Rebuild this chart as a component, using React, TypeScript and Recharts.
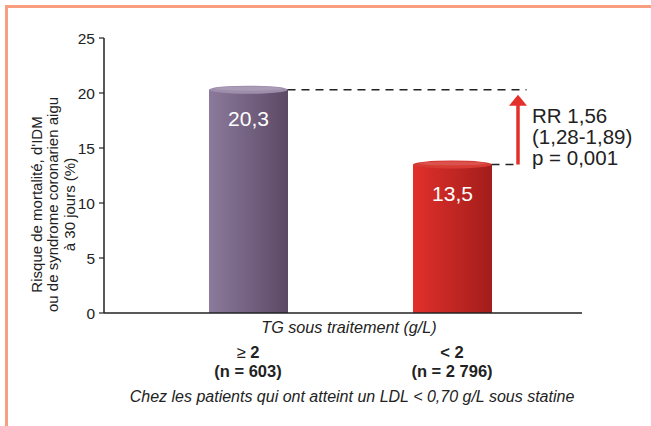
import React from 'react'
import { BarChart, Bar, XAxis, YAxis, ReferenceLine, LabelList } from 'recharts'

const categories = ['≥ 2', '< 2']
const counts = ['(n = 603)', '(n = 2 796)']
const risk = [20.3, 13.5]
const yTicks = [0, 5, 10, 15, 20, 25]
const statLines = ['RR 1,56', '(1,28-1,89)', 'p = 0,001']
const yLabelLines = ["Risque de mortalité, d'IDM", 'ou de syndrome coronarien aigu', 'à 30 jours (%)']

const data = categories.map((name, i) => ({ name, value: risk[i], n: counts[i] }))

const FONT = '"Liberation Sans", Arial, Helvetica, sans-serif'
const BAR = 79
const PAD_L = 42
const PAD_R = 28
const INK = '#222'
const ARROW_RED = '#E3302A'

const GRADS = [
  { id: 'g0', from: '#8C7A9C', to: '#5C4966', top: '#9E8EAC' },
  { id: 'g1', from: '#E2302B', to: '#A21D1B', top: '#D63A33' },
]

const fmt = (v: number) => String(v).replace('.', ',')

const Cylinder = (props: any) => {
  const { x, y, width, height, index } = props
  const g = GRADS[index % GRADS.length]
  const cx = x + width / 2
  return (
    <g>
      <rect x={x} y={y} width={width} height={height} fill={`url(#${g.id})`} />
      <ellipse cx={cx} cy={y} rx={width / 2} ry={4} fill={g.top} />
      <ellipse cx={cx} cy={y - 1} rx={width / 2 - 6} ry={2} fill="#fff" opacity={0.12} />
    </g>
  )
}

const CategoryTick = (props: any) => {
  const { x, y, payload, index } = props
  return (
    <g fontFamily={FONT} fill={INK} fontSize={16.5} textAnchor="middle">
      <text x={x} y={y + 45} fontWeight="bold" fill={INK}>
        {payload.value.startsWith('≥') ? (
          <>
            <tspan fontWeight="normal">≥</tspan>
            <tspan> 2</tspan>
          </>
        ) : (
          payload.value
        )}
      </text>
      <text x={x} y={y + 64} fontWeight="bold" fill={INK}>
        {counts[index]}
      </text>
    </g>
  )
}

const XTitle = (props: any) => {
  const { x, y, width } = props.viewBox
  const cx = x + PAD_L + (width - PAD_L - PAD_R) / 2
  return (
    <g fontFamily={FONT} fill={INK} fontStyle="italic" textAnchor="middle">
      <text x={cx - 1} y={y + 20} fontSize={16.2} fill={INK}>
        TG sous traitement (g/L)
      </text>
      <text x={cx + 2} y={y + 89} fontSize={16} fill={INK}>
        Chez les patients qui ont atteint un LDL &lt; 0,70 g/L sous statine
      </text>
    </g>
  )
}

const YTitle = (props: any) => {
  const { y, height } = props.viewBox
  const cx = 52
  const cy = y + height / 2 + 29
  return (
    <text
      transform={`rotate(-90, ${cx}, ${cy})`}
      x={cx}
      y={cy}
      textAnchor="middle"
      dominantBaseline="central"
      fontFamily={FONT}
      fontSize={15}
      fill={INK}
    >
      {yLabelLines.map((l, i) => (
        <tspan key={i} x={cx} dy={i === 0 ? -16.5 : 16.5}>
          {l}
        </tspan>
      ))}
    </text>
  )
}

// dashed line from a bar's right edge to past the second bar
const DashTo = (props: any) => {
  const { x1, y1, x2 } = props
  return (
    <line
      x1={x1 + BAR / 2}
      y1={y1}
      x2={x2 + BAR / 2 + 35}
      y2={y1}
      stroke={INK}
      strokeWidth={1.5}
      strokeDasharray="8 6"
    />
  )
}

const DashShort = (props: any) => {
  const { x1, y1 } = props
  return (
    <line
      x1={x1 + BAR / 2}
      y1={y1}
      x2={x1 + BAR / 2 + 27}
      y2={y1}
      stroke={INK}
      strokeWidth={1.5}
      strokeDasharray="8 6"
    />
  )
}

const RiskArrow = (props: any) => {
  const { x1, y1, y2 } = props
  const ax = x1 + BAR / 2 + 26.5
  const top = Math.min(y1, y2) + 5
  const bottom = Math.max(y1, y2)
  return (
    <g>
      <line x1={ax} y1={bottom} x2={ax} y2={top + 9} stroke={ARROW_RED} strokeWidth={3.5} />
      <polygon points={`${ax},${top} ${ax - 9},${top + 11} ${ax + 9},${top + 11}`} fill={ARROW_RED} />
      <g fontFamily={FONT} fontSize={20.5} fill={INK}>
        {statLines.map((s, i) => (
          <text key={i} x={ax + 14} y={top + 28 + i * 21} fill={INK}>
            {s}
          </text>
        ))}
      </g>
    </g>
  )
}

export default function App() {
  return (
    <div style={{ position: 'absolute', left: 0, top: 0, width: 651, height: 426, overflow: 'hidden', background: '#fff' }}>
      <div
        style={{
          position: 'absolute',
          left: 5,
          top: 5,
          width: 800,
          height: 600,
          borderTop: '3px solid #FA9E80',
          borderLeft: '3px solid #FA9E80',
        }}
      />
      <div style={{ position: 'absolute', left: 0, top: 0 }}>
        <BarChart width={651} height={426} data={data} margin={{ top: 38, right: 69, bottom: 33, left: 34 }}>
          <defs>
            {GRADS.map((g) => (
              <linearGradient key={g.id} id={g.id} x1="0" y1="0" x2="1" y2="0">
                <stop offset="0%" stopColor={g.from} />
                <stop offset="100%" stopColor={g.to} />
              </linearGradient>
            ))}
          </defs>
          <XAxis
            dataKey="name"
            height={80}
            padding={{ left: PAD_L, right: PAD_R }}
            axisLine={{ stroke: INK, strokeWidth: 1.5 }}
            tickLine={false}
            tickSize={0}
            tickMargin={0}
            tick={<CategoryTick />}
            label={<XTitle />}
          />
          <YAxis
            width={70}
            domain={[0, 25]}
            ticks={yTicks}
            interval={0}
            axisLine={{ stroke: INK, strokeWidth: 1.5 }}
            tickLine={{ stroke: INK, strokeWidth: 1.2 }}
            tickSize={5}
            tickMargin={4}
            tick={{ fill: INK, fontSize: 15.5, fontFamily: FONT }}
            label={<YTitle />}
          />
          <Bar dataKey="value" barSize={BAR} shape={<Cylinder />} isAnimationActive={false}>
            <LabelList
              dataKey="value"
              content={(p: any) => (
                <text
                  x={p.x + p.width / 2}
                  y={p.y + 36}
                  textAnchor="middle"
                  fill="#fff"
                  fontSize={21}
                  fontFamily={FONT}
                >
                  {fmt(p.value)}
                </text>
              )}
            />
          </Bar>
          <ReferenceLine
            segment={[
              { x: categories[0], y: risk[0] },
              { x: categories[1], y: risk[0] },
            ]}
            shape={<DashTo />}
          />
          <ReferenceLine
            segment={[
              { x: categories[1], y: risk[1] },
              { x: categories[1], y: risk[1] },
            ]}
            shape={<DashShort />}
          />
          <ReferenceLine
            segment={[
              { x: categories[1], y: risk[1] },
              { x: categories[1], y: risk[0] },
            ]}
            shape={<RiskArrow />}
          />
        </BarChart>
      </div>
    </div>
  )
}
